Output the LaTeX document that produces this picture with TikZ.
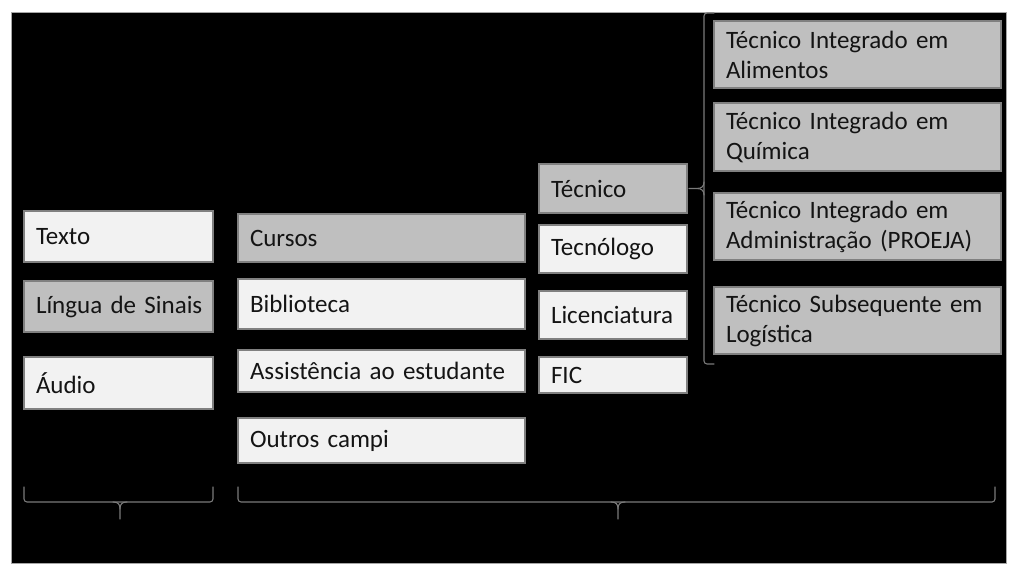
\documentclass[tikz,border=0pt]{standalone}
\usepackage{fontspec}
\setmainfont{Carlito}
\definecolor{lightbox}{HTML}{F2F2F2}
\definecolor{graybox}{HTML}{BFBFBF}
\definecolor{boxline}{HTML}{808080}
\definecolor{braceline}{HTML}{7A7A7A}
\definecolor{txt}{HTML}{141414}
\tikzset{
  x=1pt, y=-1pt,
  card/.style={draw=boxline, line width=1.2pt, inner xsep=12pt, inner ysep=0pt,
    anchor=center, align=left, text=txt,
    font=\fontsize{25}{30}\selectfont},
  lightcard/.style={card, fill=lightbox},
  graycard/.style={card, fill=graybox},
  braceline/.style={draw=braceline, line width=1.1pt, line cap=round, line join=round},
}
\begin{document}
\begin{tikzpicture}
\useasboundingbox (0,0) rectangle (1020,575);
\fill[black] (11,12) rectangle (1006,563);
\draw[gray!70, line width=0.8pt] (11,12) rectangle (1006,563);

% left column
\node[lightcard, text width=165pt, minimum height=51pt] (texto) at (118.5,236.5) {Texto};
\node[graycard, text width=165pt, minimum height=51pt] (lingua) at (118.5,306.5) {\mbox{Língua de Sinais}};
\node[lightcard, text width=165pt, minimum height=52pt] (audio) at (118.5,383) {Áudio};

% middle column
\node[graycard, text width=263pt, minimum height=48pt] (cursos) at (381.5,238) {Cursos};
\node[lightcard, text width=263pt, minimum height=50pt] (biblio) at (381.5,304) {Biblioteca};
\node[lightcard, text width=263pt, minimum height=42pt] (assist) at (381.5,371) {\mbox{Assistência ao estudante}};
\node[lightcard, text width=263pt, minimum height=45pt] (outros) at (381.5,440.5) {Outros campi};

% third column
\node[graycard, text width=124pt, minimum height=49pt] (tecnico) at (613,188.5) {Técnico};
\node[lightcard, text width=124pt, minimum height=48pt] (tecnologo) at (613,249) {Tecnólogo};
\node[lightcard, text width=124pt, minimum height=48pt] (licen) at (613,315) {\mbox{Licenciatura}};
\node[lightcard, text width=124pt, minimum height=36pt] (fic) at (613,375) {FIC};

% right column
\node[graycard, text width=263pt, minimum height=67pt] (alim) at (857.5,54.5) {Técnico Integrado em\\Alimentos};
\node[graycard, text width=263pt, minimum height=68pt] (quim) at (857.5,137) {Técnico Integrado em\\Química};
\node[graycard, text width=263pt, minimum height=67pt] (admin) at (857.5,226.5) {Técnico Integrado em\\\mbox{Administração (PROEJA)}};
\node[graycard, text width=263pt, minimum height=67pt] (logi) at (857.5,320.5) {\mbox{Técnico Subsequente em}\\Logística};

% bottom-left brace
\draw[braceline, rounded corners=3pt] (24,487) -- (24,502) -- (213,502) -- (213,487);
\coordinate (tip1) at (120,519);
\draw[braceline] (113,502) .. controls (118,502) and (120,504) .. (120,509) -- (tip1);
\draw[braceline] (127,502) .. controls (122,502) and (120,504) .. (120,509);

% bottom-right brace
\draw[braceline, rounded corners=3pt] (238,487) -- (238,502) -- (995,502) -- (995,487);
\coordinate (tip2) at (618,519);
\draw[braceline] (611,502) .. controls (616,502) and (618,504) .. (618,509) -- (tip2);
\draw[braceline] (625,502) .. controls (620,502) and (618,504) .. (618,509);

% right brace next to Técnico
\draw[braceline, rounded corners=3pt] (714,13) -- (704,13) -- (704,364) -- (714,364);
\coordinate (tip3) at (689,188.5);
\draw[braceline] (704,182) .. controls (704,186) and (702,188.5) .. (697,188.5) -- (tip3);
\draw[braceline] (704,195) .. controls (704,191) and (702,188.5) .. (697,188.5);
\end{tikzpicture}
\end{document}
